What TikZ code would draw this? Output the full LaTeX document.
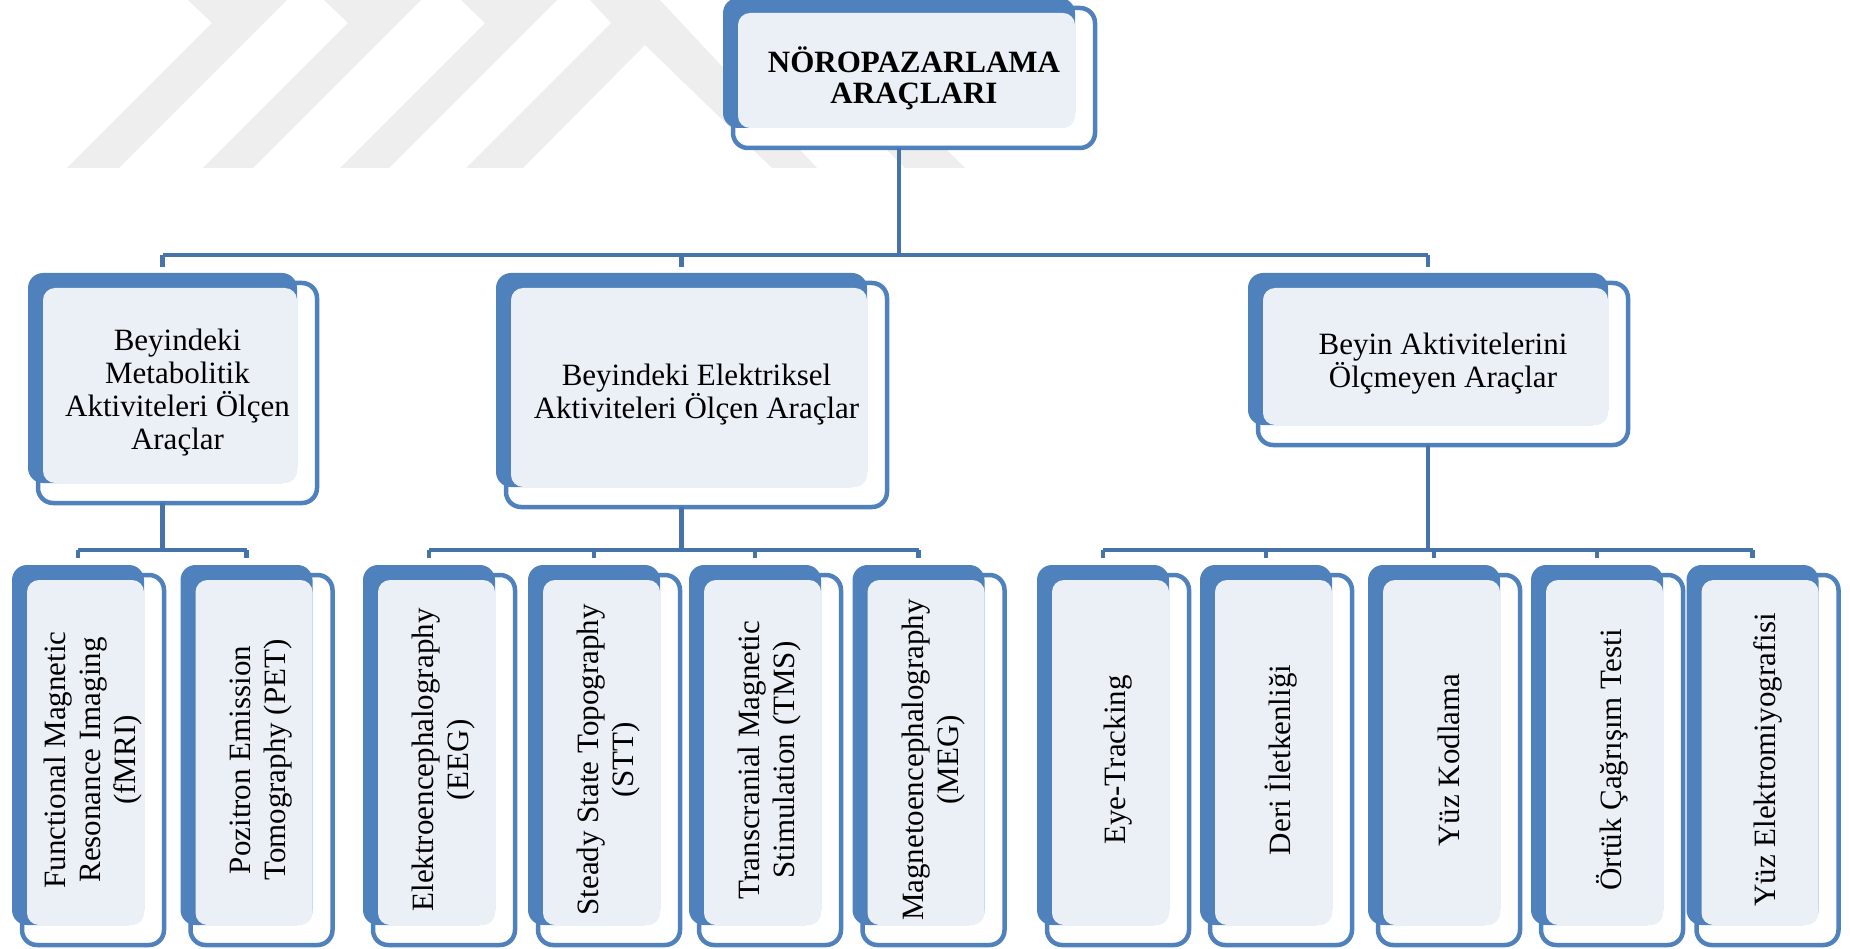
\documentclass[tikz,border=0pt]{standalone}
\usepackage{fontspec}
\setmainfont{Liberation Serif}
\usepackage{tikz}
\definecolor{boxBlue}{RGB}{79, 129, 189}
\definecolor{lineBlue}{RGB}{70, 116, 170}
\definecolor{boxLight}{RGB}{235, 240, 247}
\definecolor{markGray}{RGB}{238, 238, 238}

% front frame, back plate, light face, text
\newcommand{\aracbox}[7][boxtext]{%
  \node[frontbox, minimum width=#5pt+10pt, minimum height=#6pt+10pt] (#2f) at (#3+15,#4+15) {};
  \node[backbox, minimum width=#5pt, minimum height=#6pt] (#2) at (#3,#4) {};
  \fill[boxLight, rounded corners=12pt] ([shift={(15,15)}]#2.north west) rectangle (#2.south east);
  \node[#1] (#2t) at (#2f) {#7};
}

\begin{document}
\begin{tikzpicture}[x=1pt, y=-1pt,
    backbox/.style={fill=boxBlue, rounded corners=15pt, inner sep=0pt, outer sep=0pt},
    frontbox/.style={draw=boxBlue, fill=white, line width=4.5pt, rounded corners=15pt, inner sep=0pt, outer sep=0pt},
    boxtext/.style={align=center, inner sep=0pt, font=\fontsize{31}{33}\selectfont},
    sidetext/.style={boxtext, rotate=90, font=\fontsize{31}{35}\selectfont},
    conn/.style={draw=lineBlue, line width=4.5pt, line join=round}]
  \useasboundingbox (0,0) rectangle (1850,949);

  % watermark
  \fill[markGray] (67,168) -- (119,168) -- (287,0) -- (188,0) -- (212,23) -- cycle;
  \fill[markGray] (203,168) -- (253,168) -- (421,0) -- (324,0) -- (348,23) -- cycle;
  \fill[markGray] (340,168) -- (389,168) -- (557,0) -- (461,0) -- (485,23) -- cycle;
  \fill[markGray] (466,168) -- (523,168) -- (645,45) -- (772,168) -- (817,168) -- (660,0) -- (590,0) -- (611,23) -- cycle;
  \fill[markGray] (905,168) -- (965,168) -- (797,0) -- (737,0) -- cycle;

  % top
  \aracbox[boxtext, font=\bfseries\fontsize{31}{31}\selectfont]{noro}{899}{63}{352}{130}{NÖROPAZARLAMA\\ARAÇLARI}

  % level 1
  \aracbox{metab}{162.5}{378}{269}{210}{Beyindeki\\Metabolitik\\Aktiviteleri Ölçen\\Araçlar}
  \aracbox{elektrik}{681.5}{380}{371}{214}{Beyindeki Elektriksel\\Aktiviteleri Ölçen Araçlar}
  \aracbox{olcmeyen}{1428}{349}{360}{152}{Beyin Aktivitelerini\\Ölçmeyen Araçlar}

  % level 2
  \aracbox[sidetext]{fmri}{78}{745}{132}{360}{Functional Magnetic\\Resonance Imaging\\(fMRI)}
  \aracbox[sidetext]{pet}{246.5}{745}{132}{360}{Pozitron Emission\\Tomography (PET)}
  \aracbox[sidetext]{eeg}{429}{745}{132}{360}{Elektroencephalography\\(EEG)}
  \aracbox[sidetext]{stt}{594}{745}{132}{360}{Steady State Topography\\(STT)}
  \aracbox[sidetext]{tms}{755}{745}{132}{360}{Transcranial Magnetic\\Stimulation (TMS)}
  \aracbox[sidetext]{meg}{918.5}{745}{132}{360}{Magnetoencephalography\\(MEG)}
  \aracbox[sidetext]{eye}{1103}{745}{132}{360}{Eye-Tracking}
  \aracbox[sidetext]{deri}{1266}{745}{132}{360}{Deri İletkenliği}
  \aracbox[sidetext]{yuzkod}{1434}{745}{132}{360}{Yüz Kodlama}
  \aracbox[sidetext]{ortuk}{1597}{745}{132}{360}{Örtük Çağrışım Testi}
  \aracbox[sidetext]{emg}{1752.5}{745}{132}{360}{Yüz Elektromiyografisi}

  % connectors
  \coordinate (bar0) at (0,255);
  \coordinate (bar1) at (0,550);
  \draw[conn] (norof.south -| noro) -- (noro |- bar0);
  \draw[conn] (metab |- bar0) -- (olcmeyen |- bar0);
  \foreach \n in {metab, elektrik, olcmeyen}
    \draw[conn] (\n |- bar0) -- ([yshift=6pt]\n.north);

  \draw[conn] (metabf.south -| metab) -- (metab |- bar1);
  \draw[conn] (fmri |- bar1) -- (pet |- bar1);
  \draw[conn] (elektrikf.south -| elektrik) -- (elektrik |- bar1);
  \draw[conn] (eeg |- bar1) -- (meg |- bar1);
  \draw[conn] (olcmeyenf.south -| olcmeyen) -- (olcmeyen |- bar1);
  \draw[conn] (eye |- bar1) -- (emg |- bar1);
  \foreach \n in {fmri, pet, eeg, stt, tms, meg, eye, deri, yuzkod, ortuk, emg}
    \draw[conn] (\n |- bar1) -- ([yshift=7pt]\n.north);
\end{tikzpicture}
\end{document}
